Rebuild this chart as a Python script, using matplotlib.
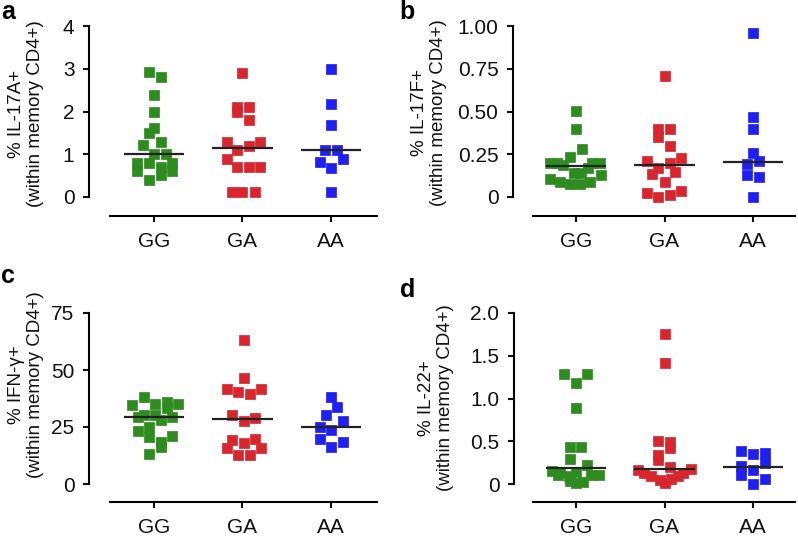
import matplotlib
matplotlib.use("Agg")
import matplotlib.pyplot as plt
import numpy as np

plt.rcParams['font.family'] = ['Liberation Sans', 'DejaVu Sans']

categories = ["GG", "GA", "AA"]
colors = ["#2e8b1f", "#d7262e", "#1f1ff0"]

# ---- Panel a: IL-17A ----
a_gg = [2.92, 2.80, 2.39, 2.00, 1.61, 1.50, 1.29, 1.21, 1.01, 1.01, 0.80, 0.80, 0.71, 0.80, 0.61, 0.51, 0.61, 0.40]
a_gg_dx = [-0.056, 0.075, 0, 0, 0, -0.06, 0.075, -0.124, 0, 0.136, -0.188, -0.056, 0.075, 0.203, -0.188, 0.075, 0.203, -0.056]
a_ga = [2.90, 2.10, 2.00, 2.10, 1.80, 1.29, 1.29, 1.20, 1.10, 0.90, 0.70, 0.70, 0.70, 0.12, 0.12, 0.12]
a_ga_dx = [0, -0.057, -0.057, 0.075, 0.075, -0.18, 0.203, 0.075, -0.057, -0.18, -0.057, 0.075, 0.203, -0.117, 0, 0.136]
a_aa = [2.99, 2.18, 1.69, 1.10, 1.10, 0.81, 0.89, 0.69, 0.12]
a_aa_dx = [0, 0, 0, -0.064, 0.068, -0.124, 0.132, 0, 0]
a_med = [1.0, 1.15, 1.10]
a_ticks = [0, 1, 2, 3, 4]
a_ticklabels = ["0", "1", "2", "3", "4"]

# ---- Panel b: IL-17F ----
b_gg = [0.503, 0.40, 0.279, 0.236, 0.20, 0.20, 0.19, 0.20, 0.20, 0.168, 0.142, 0.142, 0.129, 0.103, 0.086, 0.076, 0.076, 0.086]
b_gg_dx = [0, 0, 0.064, -0.068, -0.294, -0.22, -0.143, 0.177, 0.27, 0.132, -0.02, 0.057, 0.28, -0.294, -0.18, -0.068, 0.045, 0.158]
b_ga = [0.708, 0.40, 0.40, 0.349, 0.298, 0.23, 0.209, 0.20, 0.168, 0.134, 0.146, 0.088, 0.021, 0.002, 0.012, 0.037]
b_ga_dx = [0, -0.072, 0.057, -0.072, 0.057, 0.185, -0.2, 0.057, -0.072, -0.14, 0.12, 0, -0.2, -0.072, 0.057, 0.185]
b_aa = [0.957, 0.47, 0.40, 0.259, 0.191, 0.209, 0.127, 0.119, 0.002]
b_aa_dx = [0, 0, 0, 0, -0.064, 0.064, -0.064, 0.064, 0]
b_med = [0.181, 0.185, 0.207]
b_ticks = [0, 0.25, 0.5, 0.75, 1.0]
b_ticklabels = ["0", "0.25", "0.50", "0.75", "1.00"]

# ---- Panel c: IFN-gamma ----
c_gg = [38.0, 34.6, 35.1, 36.1, 33.2, 35.1, 29.5, 30.3, 30.3, 28.1, 29.5, 25.1, 23.4, 20.8, 21.2, 18.6, 16.4, 13.0]
c_gg_dx = [-0.113, -0.245, 0.01, 0.143, 0.143, 0.27, -0.177, -0.113, 0.01, 0.075, 0.2, -0.056, -0.177, -0.056, 0.2, 0.075, 0.075, -0.056]
c_ga = [63.2, 46.6, 41.7, 41.7, 40.4, 39.3, 30.4, 29.1, 27.6, 19.2, 19.9, 17.8, 15.6, 15.6, 12.6, 12.6]
c_ga_dx = [0.015, 0.015, -0.18, 0.21, -0.053, 0.08, -0.117, 0.143, 0.015, -0.117, 0.143, 0.015, -0.18, 0.21, -0.053, 0.08]
c_aa = [38.3, 33.6, 30.1, 27.5, 25.1, 23.7, 19.7, 18.3, 16.4]
c_aa_dx = [0, 0.072, -0.057, 0.14, -0.12, 0, -0.12, 0.14, 0]
c_med = [29.2, 28.4, 25.1]
c_ticks = [0, 25, 50, 75]
c_ticklabels = ["0", "25", "50", "75"]

# ---- Panel d: IL-22 ----
d_gg = [1.287, 1.287, 1.185, 0.885, 0.437, 0.437, 0.296, 0.218, 0.15, 0.145, 0.145, 0.11, 0.09, 0.10, 0.105, 0.04, 0.01, 0.025]
d_gg_dx = [-0.136, 0.128, 0, 0, -0.068, 0.06, -0.068, 0.12, -0.27, -0.18, 0, -0.2, -0.08, 0.17, 0.26, -0.07, 0.0, 0.08]
d_ga = [1.75, 1.42, 0.50, 0.49, 0.417, 0.34, 0.28, 0.20, 0.164, 0.125, 0.094, 0.047, 0.016, 0.055, 0.094, 0.125, 0.172]
d_ga_dx = [0, 0, -0.075, 0.057, 0.057, -0.075, -0.075, 0.057, -0.3, -0.226, -0.15, -0.056, 0, 0.075, 0.15, 0.207, 0.3]
d_aa = [0.386, 0.347, 0.359, 0.242, 0.214, 0.164, 0.105, 0.055, 0.0]
d_aa_dx = [-0.132, 0, 0.132, 0.132, -0.132, 0, -0.132, 0.132, 0]
d_med = [0.187, 0.175, 0.203]
d_ticks = [0, 0.5, 1.0, 1.5, 2.0]
d_ticklabels = ["0", "0.5", "1.0", "1.5", "2.0"]

ylabels = ["% IL-17A+\n(within memory CD4+)",
           "% IL-17F+\n(within memory CD4+)",
           "% IFN-γ+\n(within memory CD4+)",
           "% IL-22+\n(within memory CD4+)"]
letters = ["a", "b", "c", "d"]

panels = [
    dict(groups=[(a_gg, a_gg_dx), (a_ga, a_ga_dx), (a_aa, a_aa_dx)], med=a_med,
         ticks=a_ticks, tl=a_ticklabels, ymax=4,
         L=89, R=377, Y0=197, Yt=26, gg=154, xax=216, xs=110,
         lab=(26, 114), let=(1, 0)),
    dict(groups=[(b_gg, b_gg_dx), (b_ga, b_ga_dx), (b_aa, b_aa_dx)], med=b_med,
         ticks=b_ticks, tl=b_ticklabels, ymax=1.0,
         L=513, R=795, Y0=197, Yt=26, gg=576, xax=216, xs=533,
         lab=(429, 113), let=(399, 0)),
    dict(groups=[(c_gg, c_gg_dx), (c_ga, c_ga_dx), (c_aa, c_aa_dx)], med=c_med,
         ticks=c_ticks, tl=c_ticklabels, ymax=75,
         L=89, R=377, Y0=484, Yt=313, gg=154, xax=502, xs=110,
         lab=(26, 385), let=(1, 264)),
    dict(groups=[(d_gg, d_gg_dx), (d_ga, d_ga_dx), (d_aa, d_aa_dx)], med=d_med,
         ticks=d_ticks, tl=d_ticklabels, ymax=2.0,
         L=514, R=795, Y0=484, Yt=313, gg=576, xax=502, xs=533,
         lab=(436, 398), let=(400, 278)),
]

W, H = 798, 537
fig = plt.figure(figsize=(W / 100, H / 100), dpi=100)
SP = 88.5  # px per category

for i, p in enumerate(panels):
    ax = fig.add_axes([p['L'] / W, 1 - p['Y0'] / H, (p['R'] - p['L']) / W, (p['Y0'] - p['Yt']) / H])
    ax.set_xlim((p['L'] - p['gg']) / SP, (p['R'] - p['gg']) / SP)
    ax.set_ylim(0, p['ymax'])
    for k, (vals, dx) in enumerate(p['groups']):
        xs = k + np.array(dx)
        ax.scatter(xs, vals, marker='s', s=46, color=colors[k], edgecolors=colors[k],
                   linewidths=0.5, clip_on=False, zorder=3)
        ax.plot([k - 0.34, k + 0.34], [p['med'][k], p['med'][k]], color='#222222',
                lw=1.6, zorder=4, solid_capstyle='butt')
    for s in ['top', 'right']:
        ax.spines[s].set_visible(False)
    ax.spines['left'].set_linewidth(1.5)
    ax.spines['left'].set_bounds(0, p['ymax'])
    ax.spines['bottom'].set_linewidth(1.5)
    ax.spines['bottom'].set_position(('outward', (p['xax'] - p['Y0']) * 0.72))
    ax.spines['bottom'].set_bounds((p['xs'] - p['gg']) / SP, (p['R'] - p['gg']) / SP)
    ax.set_xticks([0, 1, 2])
    ax.set_xticklabels(categories)
    ax.set_yticks(p['ticks'])
    ax.set_yticklabels(p['tl'])
    ax.tick_params(axis='both', direction='out', width=1.5, length=4.5, labelsize=15, colors='#111111')
    ax.tick_params(axis='x', pad=7)
    ax.tick_params(axis='y', pad=6)
    ax.patch.set_visible(False)
    fig.text(p['lab'][0] / W, 1 - p['lab'][1] / H, ylabels[i], rotation=90, ha='center', va='center',
             multialignment='center', fontsize=13.5, linespacing=1.15, color='#111111')
    fig.text(p['let'][0] / W, 1 - p['let'][1] / H, letters[i], fontsize=18, fontweight='bold',
             ha='left', va='top')

fig.savefig("out.png", dpi=100)
